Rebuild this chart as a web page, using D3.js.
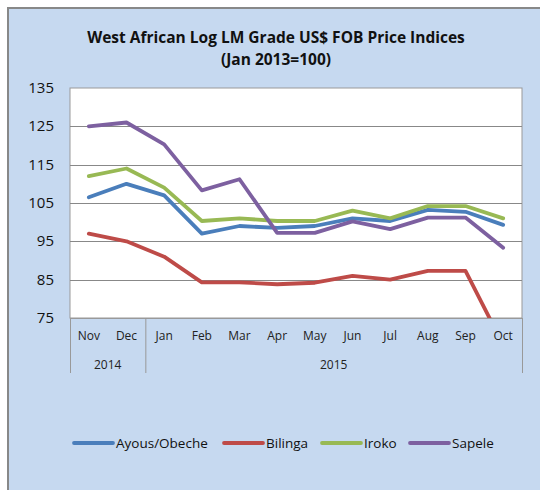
<!DOCTYPE html>
<html>
<head>
<meta charset="utf-8">
<script src="https://cdn.jsdelivr.net/npm/d3@7"></script>
<style>
  body { margin: 0; background: #fff; }
  svg { display: block; font-family: "Open Sans", "Noto Sans", sans-serif; }
</style>
</head>
<body>
<div id="chart"></div>
<script>
// data
const months = ['Nov','Dec','Jan','Feb','Mar','Apr','May','Jun','Jul','Aug','Sep','Oct'];
const years = [{ name: '2014', from: 0, to: 2 }, { name: '2015', from: 2, to: 12 }];
const seriesNames = ['Ayous/Obeche', 'Bilinga', 'Iroko', 'Sapele'];
const ayous   = [106.5, 110, 107, 97, 99, 98.5, 99, 101, 100.3, 103.2, 102.7, 99.3];
const bilinga = [97, 95, 91, 84.3, 84.3, 83.8, 84.2, 86, 85, 87.3, 87.3, 68];
const iroko   = [112, 114, 109, 100.3, 101, 100.3, 100.3, 103, 101, 104.2, 104.2, 101];
const sapele  = [125, 126, 120.3, 108.3, 111.2, 97.2, 97.2, 100.2, 98.2, 101.2, 101.2, 93.3];
const yTicks = [75, 85, 95, 105, 115, 125, 135];
const colores = ['#4A7EBB', '#BE4B48', '#98B954', '#7D60A0'];

const width = 540, height = 490;
const plot = { left: 70, right: 522, top: 88, bottom: 318 };

const svg = d3.select('#chart').append('svg')
  .attr('width', width)
  .attr('height', height);

// chart background + border (top/left visible)
svg.append('rect').attr('x', 8).attr('y', 8).attr('width', width - 8).attr('height', height - 8)
  .attr('fill', '#C6D9F0');
svg.append('path').attr('d', `M8,${height}V8H${width}`)
  .attr('fill', 'none').attr('stroke', '#888').attr('stroke-width', 2);

// title
const title = svg.append('text').attr('text-anchor', 'middle')
  .style('font-weight', 'bold').style('font-size', '15.5px').attr('fill', '#111');
title.append('tspan').attr('x', 276).attr('y', 43).text('West African Log LM Grade US$ FOB Price Indices');
title.append('tspan').attr('x', 276).attr('y', 65).text('(Jan 2013=100)');

const x = d3.scaleBand().domain(d3.range(months.length)).range([plot.left, plot.right]);
const y = d3.scaleLinear().domain([75, 135]).range([plot.bottom, plot.top]);

// plot area
svg.append('rect')
  .attr('x', plot.left).attr('y', plot.top)
  .attr('width', plot.right - plot.left).attr('height', plot.bottom - plot.top)
  .attr('fill', '#fff').attr('stroke', '#999').attr('stroke-width', 1);

// gridlines
svg.append('g').selectAll('line').data(yTicks.slice(1, -1)).join('line')
  .attr('x1', plot.left).attr('x2', plot.right)
  .attr('y1', d => Math.round(y(d)) + 0.5).attr('y2', d => Math.round(y(d)) + 0.5)
  .attr('stroke', '#888').attr('stroke-width', 1);

// y axis labels
svg.append('g').selectAll('text').data(yTicks).join('text')
  .attr('x', 54).attr('y', d => y(d) + 5)
  .attr('text-anchor', 'end').style('font-size', '15px').attr('fill', '#111')
  .text(d => d);

// category axis (two levels)
const axisBottom = 373;
svg.append('line').attr('x1', plot.left).attr('x2', plot.right)
  .attr('y1', plot.bottom + 0.5).attr('y2', plot.bottom + 0.5).attr('stroke', '#999');
const sepIdx = [0, 2, 12];
svg.append('g').selectAll('line').data(sepIdx).join('line')
  .attr('x1', d => (d < months.length ? x(d) : plot.right) + 0.5)
  .attr('x2', d => (d < months.length ? x(d) : plot.right) + 0.5)
  .attr('y1', plot.bottom).attr('y2', axisBottom)
  .attr('stroke', '#999');

svg.append('g').selectAll('text').data(months).join('text')
  .attr('x', (d, i) => x(i) + x.bandwidth() / 2).attr('y', 340)
  .attr('text-anchor', 'middle').style('font-size', '12px').attr('fill', '#222')
  .text(d => d);

svg.append('g').selectAll('text').data(years).join('text')
  .attr('x', d => (x(d.from) + (d.to < months.length ? x(d.to) : plot.right)) / 2)
  .attr('y', 369)
  .attr('text-anchor', 'middle').style('font-size', '12px').attr('fill', '#222')
  .text(d => d.name);

// lines
svg.append('clipPath').attr('id', 'clip').append('rect')
  .attr('x', plot.left).attr('y', plot.top)
  .attr('width', plot.right - plot.left).attr('height', plot.bottom - plot.top);

const line = d3.line()
  .x((d, i) => x(i) + x.bandwidth() / 2)
  .y(d => y(d));

const allSeries = [ayous, bilinga, iroko, sapele];
svg.append('g').attr('clip-path', 'url(#clip)')
  .selectAll('path').data(allSeries).join('path')
  .attr('d', line)
  .attr('fill', 'none')
  .attr('stroke', (d, i) => colores[i])
  .attr('stroke-width', 3.8)
  .attr('stroke-linejoin', 'round')
  .attr('stroke-linecap', 'round');

// legend
const legendX = [74, 224, 322, 410];
const legend = svg.append('g').selectAll('g').data(seriesNames).join('g')
  .attr('transform', (d, i) => `translate(${legendX[i]},443)`);
legend.append('line').attr('x1', 0).attr('x2', 39).attr('y1', 0).attr('y2', 0)
  .attr('stroke', (d, i) => colores[i]).attr('stroke-width', 3.8).attr('stroke-linecap', 'round');
legend.append('text').attr('x', 42).attr('y', 5)
  .style('font-size', '13.5px').attr('fill', '#111')
  .text(d => d);
</script>
</body>
</html>
